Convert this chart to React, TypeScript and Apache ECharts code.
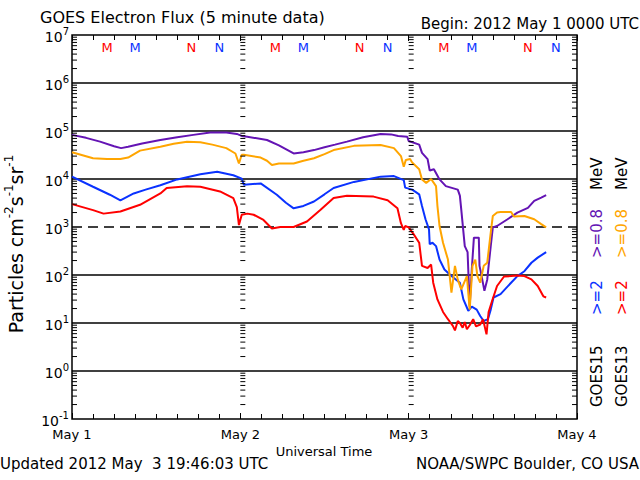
import React, { useEffect, useRef } from 'react';
import * as echarts from 'echarts';

const FONT = 'DejaVu Sans';

// Hours since 2012 May 1 00:00 UTC, and electron flux (particles cm^-2 s^-1 sr^-1)
const purpleHours = [0, 2, 4, 6, 7, 8, 10, 12.6, 15, 17.3, 19.7, 22, 23.5, 24.2, 25, 27.8, 29.5, 31.6, 33, 34.5, 36, 37.5, 39.2, 41.5, 44, 45.5, 46.5, 47.8,
  48.0, 49.5, 49.9, 50.7, 51.0, 51.6, 52.4, 53.3, 55.0, 55.3, 55.5, 56.0, 56.4, 56.7, 57.0, 57.3, 58.0, 58.1, 58.4, 58.8, 59.2, 59.4, 59.7, 60.0, 60.6, 62.1, 63.5, 65.0, 65.9, 66.9, 67.6];
const purpleFlux = [83000, 72000, 60000, 48000, 44000, 47000, 55000, 65000, 74000, 83000, 93000, 93000, 87000, 79000, 76000, 65000, 50000, 34000, 36000, 40000, 46000, 52000, 60000, 74000, 87000, 85000, 79000, 76000,
  62000, 52000, 35000, 26000, 15000, 16000, 9800, 7100, 6000, 4500, 2300, 400, 300, 22, 130, 600, 600, 155, 95, 47, 80, 155, 400, 980, 1050, 1450, 2000, 2500, 3500, 4100, 4600];

const orangeHours = [0, 3, 5, 6.9, 8, 9.7, 12.6, 14.5, 16.4, 18.3, 20, 22, 23.3, 23.8, 24.2, 24.5, 26.9, 27.8, 28.5, 29.5, 31.6, 33, 34.5, 36, 37.3, 40.2, 44, 45.9, 46.9, 47.3, 47.6,
  48.2, 48.5, 49.5, 49.9, 50.5, 51.2, 51.9, 52.1, 52.4, 52.9, 53.6, 54.1, 54.6, 55.0, 55.5, 56.3, 56.7, 57.1, 57.5, 57.8, 58.2, 58.7, 59.2, 59.7, 60.0, 60.6, 61.1, 62.6, 63.0, 64.5, 65.9, 66.9, 67.6];
const orangeFlux = [36000, 27000, 26000, 26000, 28000, 39000, 47000, 54000, 60000, 58000, 52000, 44000, 34000, 21000, 32000, 32000, 28000, 24000, 19500, 21000, 21000, 24000, 27000, 33000, 40000, 49000, 51000, 44000, 30000, 18000, 25000,
  26000, 22000, 16000, 9800, 8300, 10000, 7100, 2750, 1050, 470, 210, 43, 155, 80, 50, 95, 19, 155, 210, 95, 69, 155, 180, 760, 1700, 2000, 2050, 2050, 1650, 1700, 1450, 1150, 980];

const blueHours = [0, 3, 5.4, 6.9, 8.8, 10.5, 12.6, 15, 18.3, 20.7, 23, 24.2, 24.5, 26.9, 29.2, 30.5, 31.6, 33, 34.5, 36, 37.3, 40.2, 44, 45.9, 47.3, 47.5,
  48.5, 49.5, 49.9, 50.4, 50.9, 51.0, 51.4, 51.9, 52.4, 53.1, 54.1, 55.3, 55.8, 56.5, 57.0, 57.7, 58.2, 58.7, 59.3, 59.7, 60.1, 61.1, 62.6, 63.5, 64.5, 65.5, 66.4, 67.6];
const blueFlux = [11200, 6900, 4700, 3600, 5000, 6000, 7400, 9800, 12600, 14100, 12000, 10200, 7600, 8100, 4700, 3200, 2450, 2750, 3400, 4800, 6500, 8700, 11200, 11500, 9500, 6600,
  6000, 4800, 2750, 1450, 890, 440, 470, 400, 210, 130, 95, 69, 31, 18, 22, 19, 14, 11, 12, 19, 34, 40, 69, 95, 120, 180, 230, 300];

const redHours = [0, 3, 4.5, 6.9, 9.7, 12.6, 13.5, 16.4, 18.3, 21.1, 23, 23.5, 23.8, 24.2, 25, 25.9, 27.3, 28.5, 29.7, 31.6, 33.5, 35.4, 37.3, 39.2, 43, 45, 46.4, 46.9, 47.3, 47.5,
  48.0, 48.7, 49.5, 49.9, 50.7, 51.2, 51.5, 52.1, 52.9, 53.6, 54.0, 54.3, 54.6, 55.0, 55.3, 55.7, 56.0, 56.3, 56.7, 57.2, 57.6, 58.2, 58.6, 59.1, 59.4, 59.9, 60.6, 61.6, 62.6, 63.5, 64.5, 65.5, 66.4, 67.2, 67.6];
const redFlux = [3000, 2250, 1900, 2100, 2900, 5000, 6500, 7100, 6900, 5500, 4000, 2600, 1100, 1800, 1900, 1800, 1400, 930, 1000, 1000, 1300, 2250, 4000, 4500, 4300, 3600, 2450, 1200, 870, 1050,
  980, 710, 470, 155, 140, 165, 69, 31, 17, 12, 10, 8.7, 7, 11, 10, 8, 10.5, 7.4, 9, 12, 8.5, 9.3, 12, 5.8, 17, 29, 59, 93, 95, 98, 95, 81, 59, 36, 34];

// MLT midnight (M) / noon (N) markers, hours since May 1 00:00
const mHours13 = [5, 29, 53];
const nHours13 = [17, 41, 65];
const mHours15 = [9, 33, 57];
const nHours15 = [21, 45, 69];

const dayLabels = ['May 1', 'May 2', 'May 3', 'May 4'];
const solidGridValues = [1, 10, 100, 1e4, 1e5, 1e6];
const dashedGridValues = [1e3];
const tickColumnHours = [0, 24, 48, 72];
const minorFactors = [2, 3, 4, 5, 6, 7, 8, 9];
const decadeExponents = [-1, 0, 1, 2, 3, 4, 5, 6];

const PURPLE = '#6414b4';
const ORANGE = '#ffa500';
const BLUE = '#0a32ff';
const RED = '#ff0000';

const zip = (h: number[], v: number[]) => h.map((t, i) => [t, v[i]]);

export default function App() {
  const ref = useRef<HTMLDivElement>(null);
  useEffect(() => {
    if (!ref.current) return;
    const chart = echarts.init(ref.current, undefined, { renderer: 'svg' });

    const tickData: number[][] = [];
    tickColumnHours.forEach((h) => {
      decadeExponents.forEach((e) => {
        minorFactors.forEach((k) => {
          tickData.push([h, k * Math.pow(10, e), h === 72 ? -1 : 1]);
        });
      });
    });
    const gridData: number[][] = [
      ...solidGridValues.map((v) => [0, v, 0]),
      ...dashedGridValues.map((v) => [0, v, 1]),
    ];

    const lineSeries = (name: string, data: number[][], color: string, z: number) => ({
      type: 'line',
      name,
      data,
      showSymbol: false,
      symbol: 'none',
      z,
      lineStyle: { color, width: 2 },
      silent: true,
    });

    const letterSeries = (hours: number[], letter: string, color: string) => ({
      type: 'scatter',
      data: hours.map((h) => [h, 5.4e6]),
      symbolSize: 1,
      itemStyle: { color: 'transparent', opacity: 1 },
      silent: true,
      z: 6,
      label: {
        show: true,
        position: 'inside',
        formatter: letter,
        color,
        opacity: 1,
        textBorderWidth: 0,
        textBorderColor: 'transparent',
        fontSize: 13,
        fontFamily: FONT,
      },
    });

    const t = (text: string, x: number, y: number, size: number, extra: any = {}) => ({
      type: 'text',
      x,
      y,
      silent: true,
      ...extra,
      style: {
        text,
        fontSize: size,
        fontFamily: FONT,
        fill: '#000',
        align: 'left',
        verticalAlign: 'middle',
        ...(extra.style || {}),
      },
    });
    const vt = (text: string, x: number, yBottom: number, color: string) =>
      t(text, x, yBottom, 15, { rotation: Math.PI / 2, style: { fill: color, align: 'left' } });

    chart.setOption({
      animation: false,
      backgroundColor: '#fff',
      grid: {
        left: 72,
        top: 35,
        width: 505,
        height: 384,
        show: true,
        borderColor: '#000',
        borderWidth: 1.5,
        backgroundColor: 'transparent',
      },
      xAxis: [
        {
          type: 'value',
          min: 0,
          max: 72,
          interval: 24,
          position: 'bottom',
          axisLine: { show: false },
          splitLine: { show: false },
          axisTick: { show: true, inside: true, length: 6, lineStyle: { color: '#000', width: 1 } },
          minorTick: { show: true, splitNumber: 8, length: 5, lineStyle: { color: '#000', width: 1 } },
          axisLabel: {
            margin: 9,
            fontSize: 13,
            fontFamily: FONT,
            color: '#000',
            formatter: (v: number) => dayLabels[Math.round(v / 24)] || '',
          },
        },
        {
          type: 'value',
          min: 0,
          max: 72,
          interval: 24,
          position: 'top',
          axisLine: { show: false },
          splitLine: { show: false },
          axisTick: { show: true, inside: true, length: 6, lineStyle: { color: '#000', width: 1 } },
          minorTick: { show: true, splitNumber: 8, length: 5, lineStyle: { color: '#000', width: 1 } },
          axisLabel: { show: false },
        },
      ],
      yAxis: {
        type: 'log',
        logBase: 10,
        min: 0.1,
        max: 1e7,
        axisLine: { show: false },
        axisTick: { show: false },
        splitLine: { show: false },
        axisLabel: {
          margin: 3,
          formatter: (v: number) => {
            const e = Math.round(Math.log10(v));
            return `{b|10}{s|${e}}`;
          },
          rich: {
            b: { fontSize: 14, fontFamily: FONT, color: '#000', verticalAlign: 'bottom' },
            s: { fontSize: 10, fontFamily: FONT, color: '#000', verticalAlign: 'top', padding: [0, 0, 7, 0] },
          },
        },
      },
      series: [
        {
          type: 'custom',
          silent: true,
          z: 1,
          clip: false,
          data: gridData,
          encode: { x: 0, y: 1 },
          renderItem: (params: any, api: any) => {
            const v = api.value(1);
            const dashed = api.value(2) === 1;
            const p1 = api.coord([0, v]);
            const p2 = api.coord([72, v]);
            return {
              type: 'line',
              shape: { x1: p1[0], y1: p1[1], x2: p2[0], y2: p2[1] },
              style: { stroke: '#000', lineWidth: 1.4, lineDash: dashed ? [10, 6] : null },
            };
          },
        },
        {
          type: 'custom',
          silent: true,
          z: 3,
          clip: false,
          data: tickData,
          encode: { x: 0, y: 1 },
          renderItem: (params: any, api: any) => {
            const p = api.coord([api.value(0), api.value(1)]);
            const dir = api.value(2);
            return {
              type: 'line',
              shape: { x1: p[0], y1: p[1], x2: p[0] + dir * 5, y2: p[1] },
              style: { stroke: '#000', lineWidth: 1 },
            };
          },
        },
        lineSeries('GOES15 >=0.8 MeV', zip(purpleHours, purpleFlux), PURPLE, 2),
        lineSeries('GOES15 >=2 MeV', zip(blueHours, blueFlux), BLUE, 2),
        lineSeries('GOES13 >=0.8 MeV', zip(orangeHours, orangeFlux), ORANGE, 2),
        lineSeries('GOES13 >=2 MeV', zip(redHours, redFlux), RED, 2),
        letterSeries(mHours13, 'M', RED),
        letterSeries(mHours15, 'M', BLUE),
        letterSeries(nHours13, 'N', RED),
        letterSeries(nHours15, 'N', BLUE),
      ],
      graphic: [
        t('GOES Electron Flux (5 minute data)', 40, 17, 16),
        t('Begin: 2012 May 1 0000 UTC', 639, 24, 15, { style: { align: 'right' } }),
        t('Universal Time', 324, 451, 13, { style: { align: 'center' } }),
        t('Updated 2012 May  3 19:46:03 UTC', 0, 464, 15),
        t('NOAA/SWPC Boulder, CO USA', 639, 464, 15, { style: { align: 'right' } }),
        {
          type: 'text',
          x: 14,
          y: 244,
          rotation: Math.PI / 2,
          silent: true,
          style: {
            text: '{b|Particles cm}{s|-2}{b|s}{s|-1}{b|sr}{s|-1}',
            align: 'center',
            verticalAlign: 'middle',
            fill: '#000',
            rich: {
              b: { fontSize: 19, fontFamily: FONT, fill: '#000', verticalAlign: 'bottom' },
              s: { fontSize: 12, fontFamily: FONT, fill: '#000', verticalAlign: 'top', padding: [0, 0, 10, 0] },
            },
          },
        },
        vt('GOES15', 597, 407, '#000'),
        vt('>=2', 597, 315, BLUE),
        vt('>=0.8', 597, 258, PURPLE),
        vt('MeV', 597, 190, '#000'),
        vt('GOES13', 622, 407, '#000'),
        vt('>=2', 622, 315, RED),
        vt('>=0.8', 622, 258, ORANGE),
        vt('MeV', 622, 190, '#000'),
      ],
    });
    return () => chart.dispose();
  }, []);
  return <div ref={ref} style={{ position: 'fixed', left: 0, top: 0, width: 640, height: 480 }} />;
}
